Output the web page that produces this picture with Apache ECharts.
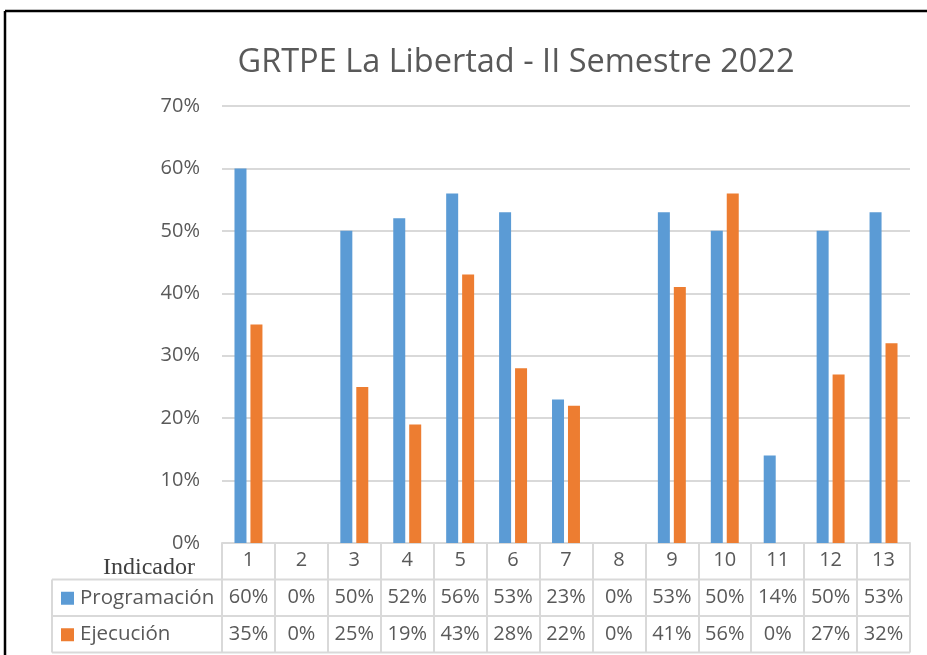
<!DOCTYPE html>
<html>
<head>
<meta charset="utf-8">
<script src="https://cdn.jsdelivr.net/npm/echarts@6/dist/echarts.min.js"></script>
<style>
  html, body { margin: 0; padding: 0; background: #fff; }
  #chart { width: 927px; height: 655px; }
</style>
</head>
<body>
<div id="chart"></div>
<script>
// datos del gráfico
const categories = ['1', '2', '3', '4', '5', '6', '7', '8', '9', '10', '11', '12', '13']
const programacion = [60, 0, 50, 52, 56, 53, 23, 0, 53, 50, 14, 50, 53]
const ejecucion = [35, 0, 25, 19, 43, 28, 22, 0, 41, 56, 0, 27, 32]
const seriesNames = ['Programación', 'Ejecución']
const seriesColors = ['#5b9bd5', '#ed7d31']

const font = 'Open Sans'
const grey = '#595959'
const lineGrey = '#d9d9d9'
const rowH = 36.5

let myChart = echarts.init(document.getElementById('chart'))

myChart.setOption({
  animation: false,
  title: {
    text: 'GRTPE La Libertad - II Semestre 2022',
    left: 511,
    top: 41,
    textAlign: 'center',
    textStyle: { fontFamily: font, fontSize: 32.5, fontWeight: 'normal', color: grey }
  },
  grid: { left: 222, right: 17, top: 106, bottom: 112 },
  xAxis: {
    type: 'category',
    data: categories,
    axisLine: { show: true, lineStyle: { color: lineGrey, width: 2 } },
    axisTick: { show: true, length: rowH * 3, lineStyle: { color: lineGrey, width: 2 } },
    axisLabel: { fontFamily: font, fontSize: 20, color: grey, margin: 7 }
  },
  yAxis: {
    type: 'value',
    min: 0,
    max: 70,
    interval: 10,
    axisLine: { show: false },
    axisTick: { show: false },
    axisLabel: { formatter: '{value}%', fontFamily: font, fontSize: 20, color: grey, margin: 22 },
    splitLine: { lineStyle: { color: lineGrey, width: 2 } }
  },
  series: [
    {
      name: seriesNames[0], type: 'bar', data: programacion,
      barWidth: 12, barGap: '33%',
      itemStyle: { color: seriesColors[0] }
    },
    {
      name: seriesNames[1], type: 'bar', data: ejecucion,
      barWidth: 12,
      itemStyle: { color: seriesColors[1] }
    }
  ]
})

// tabla de datos debajo del eje, posiciones a partir de las escalas
function drawTable() {
  const rows = [programacion, ejecucion]
  const y0 = myChart.convertToPixel({ yAxisIndex: 0 }, 0)
  const c0 = myChart.convertToPixel({ xAxisIndex: 0 }, 0)
  const c1 = myChart.convertToPixel({ xAxisIndex: 0 }, 1)
  const band = c1 - c0
  const xEnd = myChart.convertToPixel({ xAxisIndex: 0 }, categories.length - 1) + band / 2
  const tableLeft = 52
  const els = []

  // bordes exteriores
  els.push({ type: 'line', shape: { x1: 5, y1: 11, x2: 927, y2: 11 }, style: { stroke: '#000', lineWidth: 2.5 } })
  els.push({ type: 'line', shape: { x1: 5, y1: 11, x2: 5, y2: 655 }, style: { stroke: '#000', lineWidth: 2.5 } })

  for (let r = 1; r <= 3; r++) {
    const y = y0 + rowH * r
    els.push({ type: 'line', shape: { x1: tableLeft, y1: y, x2: xEnd, y2: y }, style: { stroke: lineGrey, lineWidth: 2 } })
  }
  els.push({ type: 'line', shape: { x1: tableLeft, y1: y0 + rowH, x2: tableLeft, y2: y0 + rowH * 3 }, style: { stroke: lineGrey, lineWidth: 2 } })

  els.push({
    type: 'text', x: 195, y: y0 + 25,
    style: { text: 'Indicador', font: '24px "Liberation Serif"', fill: '#404040', align: 'right', verticalAlign: 'middle' }
  })

  rows.forEach((vals, r) => {
    const cy = y0 + rowH * (r + 1) + rowH / 2
    els.push({ type: 'rect', shape: { x: 61, y: cy - 6, width: 13, height: 13 }, style: { fill: seriesColors[r] } })
    els.push({
      type: 'text', x: 80, y: cy,
      style: { text: seriesNames[r], font: '20.5px "' + font + '"', fill: grey, verticalAlign: 'middle' }
    })
    vals.forEach((v, i) => {
      const cx = myChart.convertToPixel({ xAxisIndex: 0 }, i)
      els.push({
        type: 'text', x: cx, y: cy,
        style: { text: v + '%', font: '20px "' + font + '"', fill: grey, align: 'center', verticalAlign: 'middle' }
      })
    })
  })

  myChart.setOption({ graphic: els })
}

drawTable()
</script>
</body>
</html>
